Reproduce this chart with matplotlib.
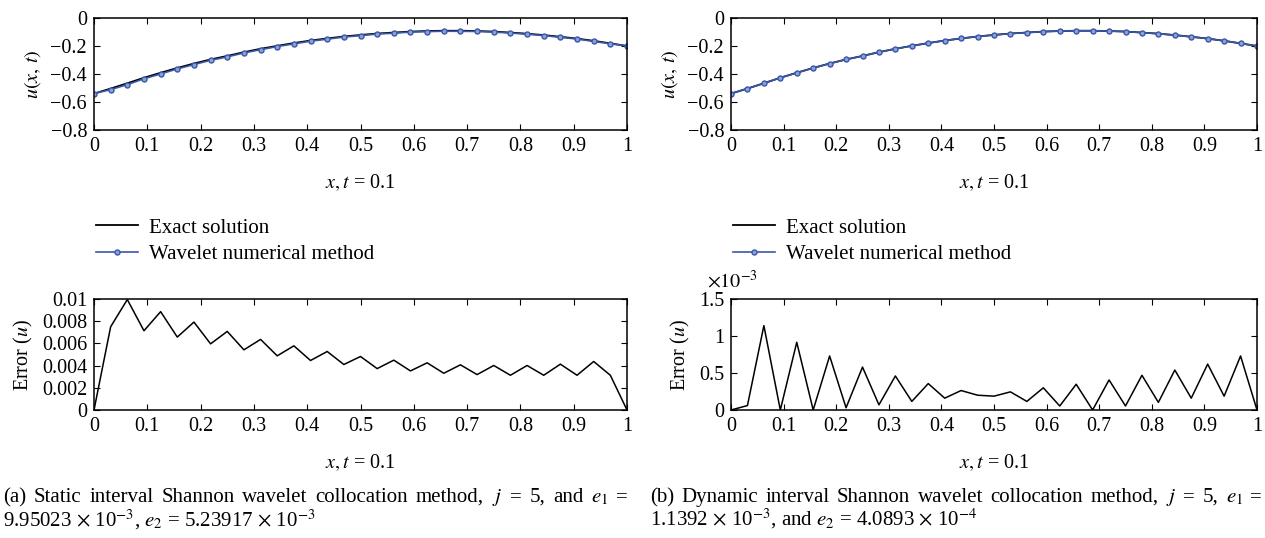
import matplotlib as mpl
import matplotlib.pyplot as plt
import numpy as np

params = {'font.family': ['Liberation Serif', 'DejaVu Serif'],
          'mathtext.fontset': 'stix',
          'font.size': 14.5,
          'axes.linewidth': 1.1,
          'xtick.direction': 'in',
          'ytick.direction': 'in',
          'xtick.top': True,
          'ytick.right': True,
          'xtick.major.size': 4.5,
          'ytick.major.size': 4.5,
          'xtick.major.pad': 5,
          'ytick.major.pad': 5,
          }
mpl.rcParams.update(params)

# collocation points, j = 5  ->  33 nodes on [0, 1]
x = np.linspace(0, 1, 33)

# exact solution u(x, t) at t = 0.1
u_exact = [-0.540, -0.504, -0.466, -0.427, -0.391, -0.357, -0.325, -0.296,
           -0.271, -0.244, -0.220, -0.199, -0.179, -0.161, -0.146, -0.132,
           -0.121, -0.111, -0.104, -0.097, -0.093, -0.091, -0.091, -0.093,
           -0.097, -0.104, -0.112, -0.122, -0.134, -0.147, -0.163, -0.181,
           -0.200]

# pointwise error, static interval method
err_a = [0.0, 7.50e-3, 9.95e-3, 7.14e-3, 8.86e-3, 6.57e-3, 7.92e-3, 5.96e-3,
         7.08e-3, 5.42e-3, 6.36e-3, 4.88e-3, 5.78e-3, 4.46e-3, 5.27e-3, 4.10e-3,
         4.82e-3, 3.73e-3, 4.49e-3, 3.52e-3, 4.25e-3, 3.31e-3, 4.07e-3, 3.19e-3,
         4.01e-3, 3.13e-3, 4.01e-3, 3.13e-3, 4.13e-3, 3.13e-3, 4.37e-3, 3.13e-3,
         0.0]

# pointwise error, dynamic interval method
err_b = [0.0, 0.06e-3, 1.14e-3, 0.0, 0.915e-3, 0.0, 0.73e-3, 0.03e-3,
         0.58e-3, 0.07e-3, 0.46e-3, 0.116e-3, 0.357e-3, 0.16e-3, 0.263e-3, 0.20e-3,
         0.187e-3, 0.245e-3, 0.116e-3, 0.30e-3, 0.054e-3, 0.348e-3, 0.0, 0.406e-3,
         0.054e-3, 0.469e-3, 0.103e-3, 0.54e-3, 0.16e-3, 0.62e-3, 0.187e-3, 0.73e-3,
         0.0]

u_wav_a = np.array(u_exact) - np.array(err_a)
u_wav_b = np.array(u_exact) - np.array(err_b)

xticks = np.arange(0, 1.01, 0.1)
xticklabels = ['0', '0.1', '0.2', '0.3', '0.4', '0.5', '0.6', '0.7', '0.8', '0.9', '1']
uticks = [0, -0.2, -0.4, -0.6, -0.8]
uticklabels = ['0', '\u22120.2', '\u22120.4', '\u22120.6', '\u22120.8']

# sub-figure captions: first line is justified, second is left aligned
captions = [
    ('(a)  Static interval Shannon wavelet collocation method,  $j$ = 5, and $e_1$ =',
     r'9.95023 $\times$ 10$^{-3}$, $e_2$ = 5.23917 $\times$ 10$^{-3}$'),
    ('(b)  Dynamic interval Shannon wavelet collocation method,  $j$ = 5, $e_1$ =',
     r'1.1392 $\times$ 10$^{-3}$, and $e_2$ = 4.0893 $\times$ 10$^{-4}$'),
]

blue = '#3a58a8'
W, H = 1265., 538.


def box(left, top, right, bottom):
    return [left / W, 1 - bottom / H, (right - left) / W, (bottom - top) / H]


def justified(fig, words, x0, x1, y, **kw):
    # place words so the line runs from x0 to x1 (pixels)
    renderer = fig.canvas.get_renderer()
    texts = [fig.text(0, 1 - y / H, w, ha='left', va='baseline', **kw) for w in words]
    widths = [t.get_window_extent(renderer).width for t in texts]
    gap = (x1 - x0 - sum(widths)) / (len(words) - 1)
    pos = x0
    for t, w in zip(texts, widths):
        t.set_x(pos / W)
        pos += w + gap


fig = plt.figure(figsize=(12.65, 5.38), dpi=100)

xlabel = r'$x, t$ = 0.1'

for k, (u_wav, err, left) in enumerate([(u_wav_a, err_a, 94), (u_wav_b, err_b, 731)]):
    right = left + 526 if k else 627

    ax = fig.add_axes(box(left, 18, right, 130))
    l1, = ax.plot(x, u_exact, color='k', lw=1.3, label='Exact solution')
    l2, = ax.plot(x, u_wav, color=blue, lw=1.2, marker='o', ms=3.6, mew=1.0,
                  mfc='#8aa0d8', mec=blue, label='Wavelet numerical method')
    ax.set_xlim(0, 1)
    ax.set_ylim(-0.8, 0)
    ax.set_xticks(xticks)
    ax.set_xticklabels(xticklabels)
    ax.set_yticks(uticks)
    ax.set_yticklabels(uticklabels)
    ax.set_xlabel(xlabel, labelpad=12.5)
    ax.set_ylabel(r'$u(x,\,t)$', labelpad=5)

    fig.legend([l1, l2], [l1.get_label(), l2.get_label()], loc='upper left',
               bbox_to_anchor=((left + 2) / W, 1 - 218 / H), frameon=False,
               borderpad=0, borderaxespad=0, handlelength=2.0, handletextpad=0.55,
               labelspacing=0.35, fontsize=15)

    ax = fig.add_axes(box(left, 299, right, 410))
    ax.plot(x, err, color='k', lw=1.1)
    ax.set_xlim(0, 1)
    ax.set_xticks(xticks)
    ax.set_xticklabels(xticklabels)
    if k == 0:
        ax.set_ylim(0, 0.01)
        ax.set_yticks(np.arange(0, 0.0101, 0.002))
        ax.set_yticklabels(['0', '0.002', '0.004', '0.006', '0.008', '0.01'])
    else:
        ax.set_ylim(0, 1.5e-3)
        ax.set_yticks([0, 0.5e-3, 1e-3, 1.5e-3])
        ax.set_yticklabels(['0', '0.5', '1', '1.5'])
        ax.text(-0.045, 1.06, r'$\times10^{-3}$', transform=ax.transAxes,
                ha='left', va='bottom', fontsize=14.5)
    ax.set_xlabel(xlabel, labelpad=12.5)
    ax.set_ylabel(r'Error ($u$)', labelpad=5)

    cx0, cx1 = (3, 628) if k == 0 else (650, 1262)
    justified(fig, captions[k][0].split(), cx0, cx1, 502, fontsize=15)
    fig.text(cx0 / W, 1 - 526 / H, captions[k][1], ha='left', va='baseline', fontsize=15)

fig.savefig('out.png', dpi=100)
